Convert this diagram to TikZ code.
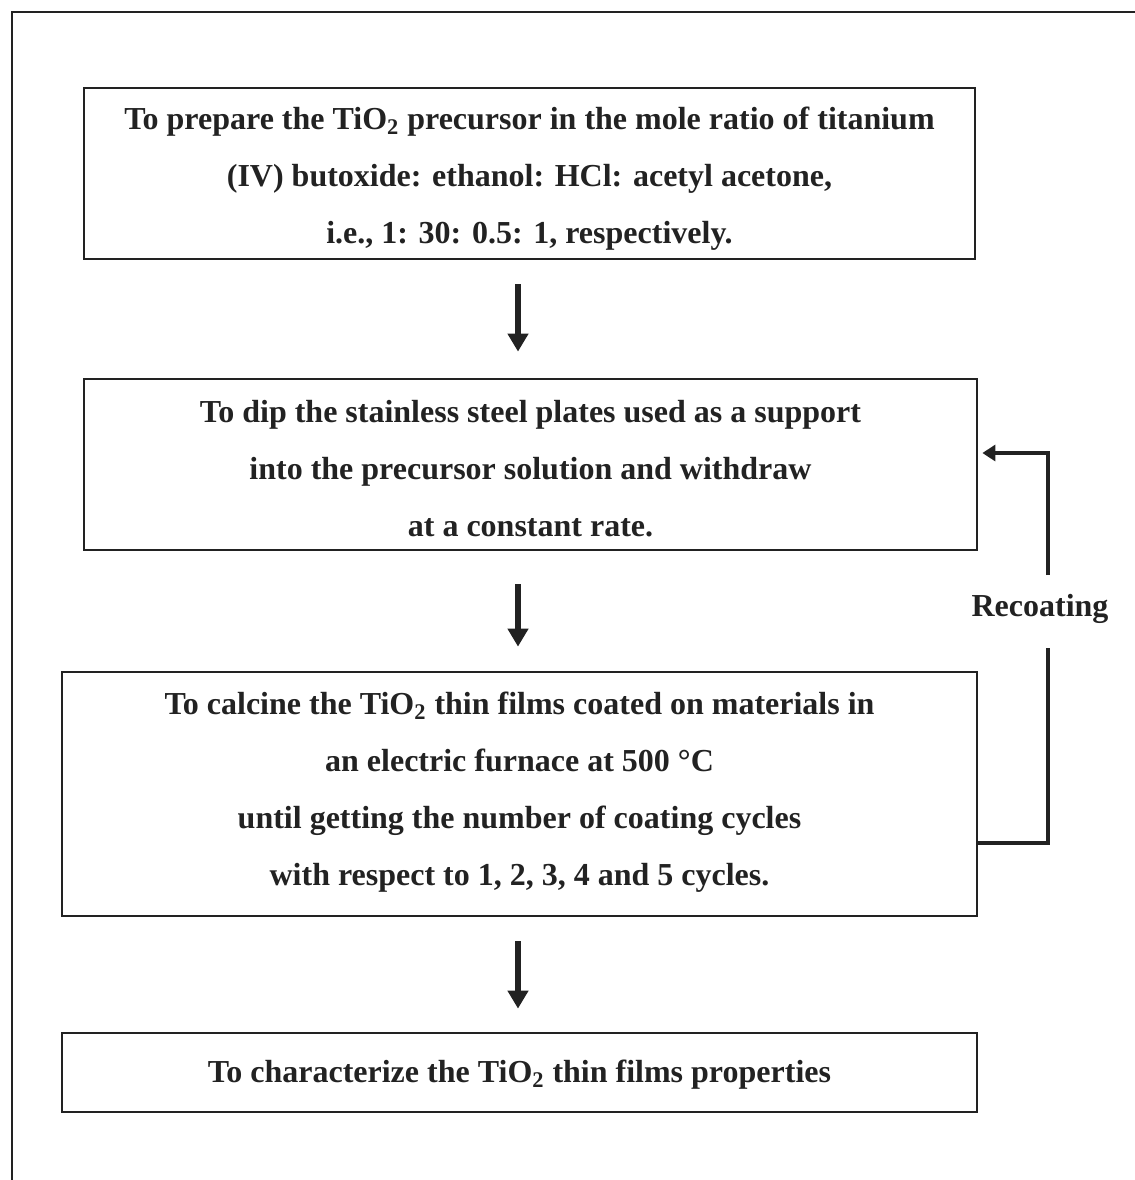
\documentclass[tikz,border=0pt]{standalone}
\usepackage{fontspec}
\setmainfont{Liberation Serif}
\usetikzlibrary{arrows.meta,calc}
\definecolor{ink}{HTML}{222222}
\tikzset{
  box/.style={draw=ink, line width=1.4pt, inner sep=0pt},
  boxtext/.style={text=ink, align=center, inner sep=0pt,
    font=\fontsize{16}{28.5}\selectfont\bfseries},
  flow/.style={draw=ink, line width=3.4pt, -{Triangle[width=10pt,length=9pt]}},
  loopline/.style={draw=ink, line width=2.4pt},
  looparrow/.style={draw=ink, line width=2.4pt, -{Triangle[width=8pt,length=6.5pt]}},
  frame/.style={draw=ink, line width=1.4pt}
}
\begin{document}
\begin{tikzpicture}[x=0.5pt, y=-0.5pt]
\useasboundingbox (0,0) rectangle (1135,1180);
\draw[frame] (12,1180) -- (12,12) -- (1135,12);

\node[box, minimum width=445.5pt, minimum height=85.5pt] (b1) at (529.5,173.5) {};
\node[boxtext] (t1) at ($(b1.center)+(0,5)$)
 {To prepare the TiO\textsubscript{2} precursor in the mole ratio of titanium\\
  (IV) butoxide: ethanol: HCl: acetyl acetone,\\
  i.e., 1: 30: 0.5: 1, respectively.};
\node[box, minimum width=446.5pt, minimum height=85.5pt] (b2) at (530.5,464.5) {};
\node[boxtext] (t2) at ($(b2.center)+(0,4)$)
 {To dip the stainless steel plates used as a support\\
  into the precursor solution and withdraw\\
  at a constant rate.};
\node[box, minimum width=457.5pt, minimum height=122pt] (b3) at (519.5,794) {};
\node[boxtext] (t3) at ($(b3.center)+(0,-2)$)
 {To calcine the TiO\textsubscript{2} thin films coated on materials in\\
  an electric furnace at 500 °C\\
  until getting the number of coating cycles\\
  with respect to 1, 2, 3, 4 and 5 cycles.};
\node[box, minimum width=457.5pt, minimum height=39.5pt] (b4) at (519.5,1072.5) {};
\node[boxtext] (t4) at ($(b4.center)+(0,2)$)
 {To characterize the TiO\textsubscript{2} thin films properties};

\node[boxtext] (rec) at (1040,609) {Recoating};

\draw[flow] ($(b1.south)+(-11.5,24)$) -- ($(b2.north)+(-12.5,-26)$);
\draw[flow] ($(b2.south)+(-12.5,33)$) -- ($(b3.north)+(-1.5,-24)$);
\draw[flow] ($(b3.south)+(-1.5,24)$) -- ($(b4.north)+(-1.5,-23)$);

\coordinate (c1) at (1048,843);
\coordinate (c2) at (1048,648);
\coordinate (c3) at (1048,575);
\coordinate (c4) at (1048,453);
\draw[loopline] (b3.east |- c1) -- (c1) -- (c2);
\draw[looparrow] (c3) -- (c4) -- ($(b2.east |- c4)+(4,0)$);
\end{tikzpicture}
\end{document}
